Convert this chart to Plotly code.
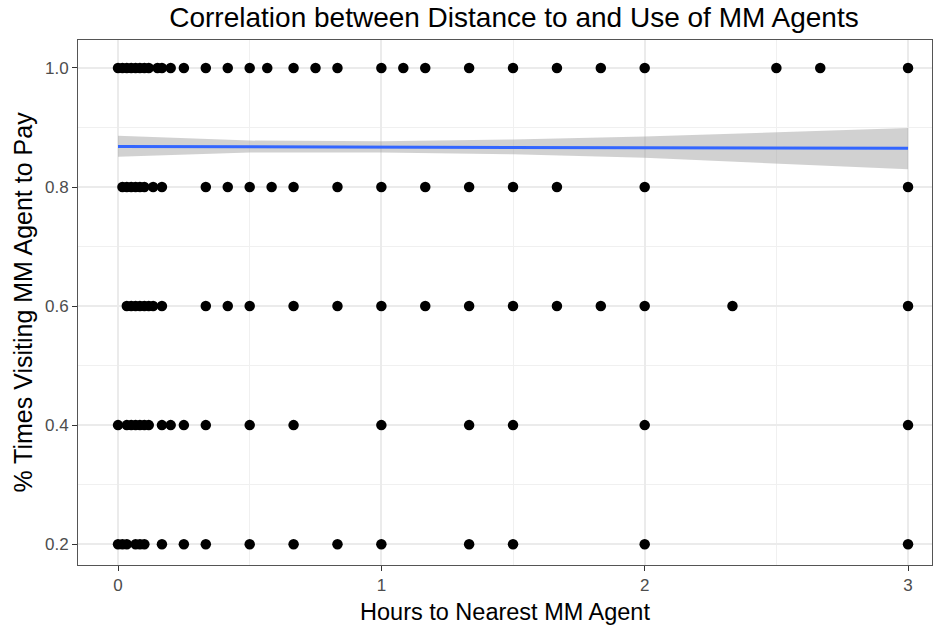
import plotly.graph_objects as go

# Scatter data: hours to nearest agent, per share level
x_10 = [0, 0.0167, 0.0333, 0.05, 0.0667, 0.0833, 0.1, 0.1167, 0.15, 0.1667, 0.2, 0.25,
        0.3333, 0.4167, 0.5, 0.5667, 0.6667, 0.75, 0.8333, 1.0, 1.0833, 1.1667, 1.3333,
        1.5, 1.6667, 1.8333, 2.0, 2.5, 2.6667, 3.0]
x_08 = [0.0167, 0.0333, 0.05, 0.0667, 0.0833, 0.1, 0.1333, 0.1667, 0.3333, 0.4167, 0.5,
        0.5833, 0.6667, 0.8333, 1.0, 1.1667, 1.3333, 1.5, 1.6667, 2.0, 3.0]
x_06 = [0.0333, 0.05, 0.0667, 0.0833, 0.1, 0.1167, 0.1333, 0.1667, 0.3333, 0.4167, 0.5,
        0.6667, 0.8333, 1.0, 1.1667, 1.3333, 1.5, 1.6667, 1.8333, 2.0, 2.3333, 3.0]
x_04 = [0, 0.0333, 0.05, 0.0667, 0.0833, 0.1, 0.1167, 0.1667, 0.2, 0.25, 0.3333, 0.5,
        0.6667, 1.0, 1.3333, 1.5, 2.0, 3.0]
x_02 = [0, 0.0167, 0.0333, 0.0667, 0.0833, 0.1, 0.1667, 0.25, 0.3333, 0.5, 0.6667,
        0.8333, 1.0, 1.3333, 1.5, 2.0, 3.0]
levels = [1.0, 0.8, 0.6, 0.4, 0.2]

# Linear fit and confidence band
fit_x = [0, 0.5, 1, 1.5, 2, 2.5, 3]
fit_y = [0.868, 0.8675, 0.867, 0.8665, 0.866, 0.8655, 0.865]
fit_lo = [0.851, 0.858, 0.858, 0.855, 0.849, 0.840, 0.830]
fit_hi = [0.886, 0.878, 0.877, 0.880, 0.885, 0.892, 0.899]

xs, ys = [], []
for lvl, arr in zip(levels, [x_10, x_08, x_06, x_04, x_02]):
    xs += arr
    ys += [lvl] * len(arr)

fig = go.Figure()
fig.add_trace(go.Scatter(x=xs, y=ys, mode="markers",
                         marker=dict(color="black", size=10.5), showlegend=False))
fig.add_trace(go.Scatter(x=fit_x + fit_x[::-1], y=fit_hi + fit_lo[::-1], fill="toself",
                         fillcolor="rgba(153,153,153,0.45)", line=dict(width=0),
                         mode="lines", showlegend=False, hoverinfo="skip"))
fig.add_trace(go.Scatter(x=fit_x, y=fit_y, mode="lines",
                         line=dict(color="#3366FF", width=3), showlegend=False))

FONT = "Liberation Sans, Arial"
axis_common = dict(
    showgrid=True, gridcolor="#ebebeb", gridwidth=1.8,
    zeroline=False, showline=True, linecolor="#555555", linewidth=1, mirror=True,
    ticks="outside", ticklen=5, tickcolor="#333333", tickwidth=1,
    tickfont=dict(size=17, color="#4d4d4d", family=FONT),
)

fig.update_layout(
    template="none",
    width=948, height=629,
    margin=dict(l=78, r=16, t=40, b=64),
    paper_bgcolor="white", plot_bgcolor="white",
    font=dict(family=FONT, color="black"),
    title=dict(text="Correlation between Distance to and Use of MM Agents",
               x=514 / 948, xanchor="center", xref="container",
               y=0.973, yanchor="middle", yref="container",
               font=dict(size=28, color="black", family=FONT)),
    xaxis=dict(axis_common, range=[-0.152, 3.091], tickvals=[0, 1, 2, 3],
               title=dict(text="Hours to Nearest MM Agent", standoff=9,
                          font=dict(size=23.5, color="black", family=FONT)),
               minor=dict(tickvals=[0.5, 1.5, 2.5], showgrid=True, gridcolor="#f0f0f0",
                          gridwidth=1, ticks="")),
    yaxis=dict(axis_common, range=[0.165, 1.047], tickvals=[0.2, 0.4, 0.6, 0.8, 1.0],
               tickformat=".1f",
               title=dict(text="% Times Visiting MM Agent to Pay", standoff=5,
                          font=dict(size=25, color="black", family=FONT)),
               minor=dict(tickvals=[0.3, 0.5, 0.7, 0.9], showgrid=True, gridcolor="#f0f0f0",
                          gridwidth=1, ticks="")),
)

fig.write_html("out.html")
